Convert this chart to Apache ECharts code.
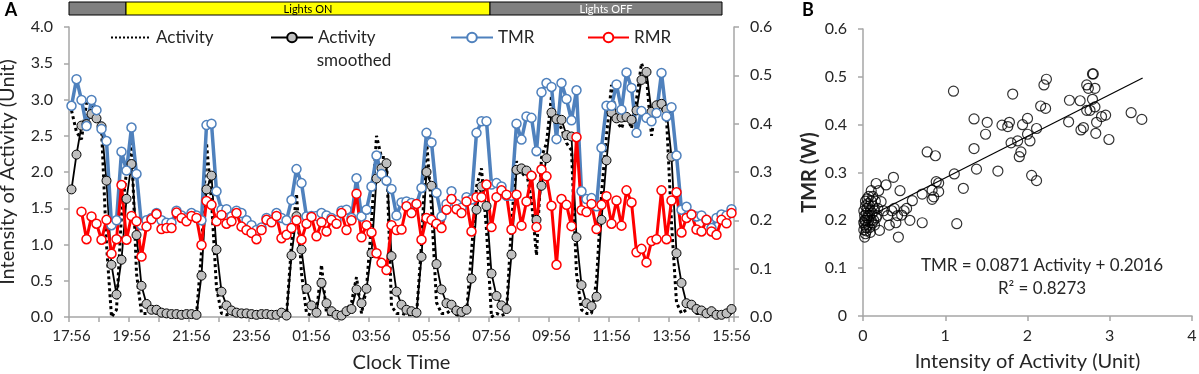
<!DOCTYPE html>
<html>
<head>
<meta charset="utf-8">
<title>Activity, TMR and RMR</title>
<script src="https://cdn.jsdelivr.net/npm/echarts@6/dist/echarts.min.js"></script>
<style>
  html, body { margin: 0; padding: 0; background: #fff; }
  #chart { width: 1199px; height: 374px; }
</style>
</head>
<body>
<div id="chart"></div>
<script>
// 10-minute bins from 17:56 to 15:56 next day
const clockTimes = [
  "17:56","18:06","18:16","18:26","18:36","18:46", "18:56","19:06","19:16","19:26","19:36","19:46",
  "19:56","20:06","20:16","20:26","20:36","20:46", "20:56","21:06","21:16","21:26","21:36","21:46",
  "21:56","22:06","22:16","22:26","22:36","22:46", "22:56","23:06","23:16","23:26","23:36","23:46",
  "23:56","00:06","00:16","00:26","00:36","00:46", "00:56","01:06","01:16","01:26","01:36","01:46",
  "01:56","02:06","02:16","02:26","02:36","02:46", "02:56","03:06","03:16","03:26","03:36","03:46",
  "03:56","04:06","04:16","04:26","04:36","04:46", "04:56","05:06","05:16","05:26","05:36","05:46",
  "05:56","06:06","06:16","06:26","06:36","06:46", "06:56","07:06","07:16","07:26","07:36","07:46",
  "07:56","08:06","08:16","08:26","08:36","08:46", "08:56","09:06","09:16","09:26","09:36","09:46",
  "09:56","10:06","10:16","10:26","10:36","10:46", "10:56","11:06","11:16","11:26","11:36","11:46",
  "11:56","12:06","12:16","12:26","12:36","12:46", "12:56","13:06","13:16","13:26","13:36","13:46",
  "13:56","14:06","14:16","14:26","14:36","14:46", "14:56","15:06","15:16","15:26","15:36","15:46",
  "15:56"
];

const activity = [
  2.85,2.55,2.45,2.95,2.90,2.80,2.60,1.00,0.00,0.10,1.40,2.00,
  2.40,0.60,0.05,0.05,0.08,0.05,0.03,0.02,0.02,0.03,0.02,0.03,
  0.02,0.03,0.90,2.40,1.60,0.40,0.05,0.03,0.04,0.02,0.03,0.02,
  0.02,0.03,0.02,0.02,0.02,0.03,0.05,0.02,1.00,1.70,0.60,0.05,
  0.02,0.05,0.72,0.05,0.02,0.02,0.03,0.10,0.20,0.55,0.05,0.40,
  1.30,2.50,2.20,2.20,0.15,0.05,0.05,0.03,0.03,0.02,1.00,2.45,
  1.50,0.20,0.05,0.05,0.10,0.03,0.02,0.05,0.90,1.80,2.05,1.20,
  0.00,0.05,0.02,0.05,1.30,2.15,1.95,2.00,1.60,0.85,2.20,2.40,
  3.05,2.70,2.60,2.40,2.30,0.60,0.10,0.05,0.05,0.50,1.70,2.50,
  3.20,2.70,2.60,2.80,2.60,3.00,3.50,3.30,2.50,2.95,2.90,2.75,
  1.30,0.20,0.05,0.10,0.15,0.05,0.05,0.02,0.05,0.02,0.02,0.03,0.05
];

const activitySmoothed = [
  1.76,2.24,2.64,2.66,2.80,2.74,2.63,1.88,0.72,0.31,0.79,1.63,
  2.11,1.13,0.43,0.18,0.10,0.10,0.06,0.05,0.04,0.04,0.03,0.04,
  0.04,0.03,0.57,1.76,1.95,0.93,0.35,0.16,0.09,0.06,0.05,0.05,
  0.04,0.03,0.04,0.04,0.03,0.03,0.06,0.02,0.85,1.39,0.93,0.39,
  0.16,0.06,0.47,0.19,0.08,0.03,0.02,0.08,0.11,0.38,0.19,0.39,
  0.88,1.91,2.05,2.12,0.84,0.35,0.17,0.10,0.08,0.06,0.83,2.00,
  1.81,0.73,0.38,0.19,0.17,0.09,0.07,0.10,0.53,1.48,1.80,1.53,
  0.60,0.29,0.16,0.11,0.86,2.03,2.05,2.02,1.95,1.34,1.81,2.19,
  2.82,2.73,2.72,2.51,2.49,1.10,0.44,0.19,0.15,0.28,1.34,2.16,
  2.82,2.74,2.75,2.76,2.72,2.85,3.27,3.38,2.83,2.92,2.94,2.86,
  2.21,0.88,0.47,0.19,0.17,0.11,0.09,0.05,0.08,0.03,0.03,0.05,0.11
];

const tmr = [
  0.437,0.492,0.449,0.395,0.449,0.428,0.389,0.364,0.190,0.200,0.342,0.303,
  0.392,0.296,0.190,0.200,0.205,0.215,0.200,0.195,0.195,0.220,0.210,0.205,
  0.215,0.210,0.200,0.397,0.400,0.260,0.222,0.223,0.208,0.220,0.215,0.200,
  0.190,0.180,0.185,0.205,0.200,0.215,0.205,0.200,0.242,0.306,0.277,0.208,
  0.209,0.209,0.215,0.210,0.205,0.200,0.220,0.222,0.205,0.287,0.208,0.222,
  0.270,0.334,0.296,0.282,0.265,0.210,0.237,0.239,0.236,0.234,0.267,0.381,
  0.361,0.257,0.208,0.234,0.260,0.234,0.226,0.248,0.243,0.381,0.405,0.405,
  0.274,0.277,0.270,0.251,0.251,0.400,0.367,0.415,0.412,0.343,0.465,0.484,
  0.476,0.368,0.484,0.451,0.407,0.469,0.260,0.244,0.246,0.229,0.350,0.437,
  0.437,0.481,0.429,0.506,0.474,0.381,0.426,0.412,0.405,0.422,0.505,0.415,
  0.434,0.334,0.222,0.228,0.212,0.208,0.210,0.201,0.184,0.205,0.212,0.210,0.223
];

const rmr = [
  null,null,0.218,0.161,0.208,0.193,0.160,0.201,0.131,0.161,0.273,0.160,
  0.209,0.198,0.125,0.187,0.202,0.213,0.182,0.184,0.184,0.216,0.205,0.198,
  0.209,0.205,0.149,0.240,0.232,0.198,0.211,0.193,0.198,0.215,0.187,0.180,
  0.174,0.161,0.180,0.201,0.196,0.209,0.163,0.170,0.184,0.200,0.160,0.193,
  0.207,0.167,0.196,0.177,0.201,0.193,0.215,0.180,0.200,0.255,0.165,0.190,
  0.175,0.132,0.112,0.097,0.190,0.180,0.181,0.229,0.215,0.234,0.160,0.205,
  0.201,0.193,0.184,0.222,0.244,0.223,0.215,0.239,0.177,0.248,0.248,0.274,
  0.186,0.248,0.262,0.253,0.181,0.253,0.189,0.239,0.292,0.186,0.305,0.291,
  0.230,0.108,0.244,0.232,0.188,0.372,0.221,0.217,0.234,0.182,0.232,0.250,
  0.193,0.241,0.189,0.262,0.237,0.134,0.141,0.113,0.157,0.161,0.262,0.161,
  0.241,0.258,0.175,0.205,0.212,0.181,0.177,0.201,0.177,0.170,0.201,0.194,0.215
];

// panel B: [activity, TMR]
const scatterPoints = [
  [0.02,0.165],[0.03,0.172],[0.01,0.18],[0.02,0.19],[0.04,0.185],[0.01,0.195],[0.03,0.2],
  [0.05,0.205],[0.02,0.21],[0.04,0.215],[0.01,0.22],[0.06,0.19],[0.07,0.2],[0.05,0.225],
  [0.08,0.21],[0.03,0.23],[0.06,0.235],[0.09,0.22],[0.1,0.2],[0.08,0.185],[0.11,0.215],
  [0.12,0.23],[0.1,0.24],[0.13,0.2],[0.05,0.245],[0.07,0.25],[0.1,0.262],[0.12,0.25],
  [0.15,0.24],[0.16,0.277],[0.19,0.262],[0.22,0.239],[0.2,0.179],[0.14,0.22],[0.17,0.21],
  [0.18,0.225],[0.09,0.175],[0.04,0.178],[0.02,0.2],[0.06,0.21],[0.14,0.19],[0.03,0.24],
  [0.08,0.23],[0.11,0.195],[0.16,0.205],
  [0.25,0.22],[0.28,0.274],[0.3,0.21],[0.32,0.19],[0.35,0.22],[0.37,0.29],[0.38,0.225],
  [0.4,0.195],[0.42,0.21],[0.43,0.165],[0.45,0.262],[0.47,0.211],[0.5,0.22],[0.53,0.225],
  [0.57,0.2],[0.6,0.241],[0.72,0.255],[0.72,0.195],
  [0.78,0.343],[0.88,0.335],[0.84,0.263],[0.86,0.249],[0.84,0.244],[0.89,0.281],[0.92,0.278],
  [0.92,0.26],[1.11,0.297],[1.22,0.267],[1.14,0.193],[1.1,0.47],
  [1.35,0.35],[1.35,0.412],[1.38,0.307],[1.49,0.38],[1.51,0.405],[1.64,0.303],[1.69,0.399],
  [1.76,0.396],[1.78,0.405],[1.8,0.362],[1.82,0.464],[1.88,0.366],[1.9,0.333],[1.92,0.343],
  [1.94,0.4],[2.0,0.413],[2.0,0.38],[2.03,0.366],[2.05,0.294],[2.11,0.392],[2.11,0.283],
  [2.16,0.439],[2.2,0.483],[2.22,0.434],[2.23,0.495],[2.5,0.406],[2.51,0.451],[2.64,0.45],
  [2.65,0.389],[2.68,0.394],[2.72,0.483],[2.72,0.43],[2.74,0.476],[2.76,0.43],[2.79,0.506],
  [2.8,0.506],[2.79,0.453],[2.82,0.476],[2.82,0.437],[2.84,0.405],[2.83,0.382],[2.9,0.417],
  [2.95,0.42],[2.99,0.369],[3.26,0.425],[3.39,0.411]
];

const trendSlope = 0.0871;
const trendIntercept = 0.2016;
const trendR2 = 0.8273;
const trendRange = [0.15, 3.4];

const font = 'Lato';
const axisGray = '#a6a6a6';
const textColor = '#262626';

let chart = echarts.init(document.getElementById('chart'));

const axisCommon = {
    axisLine: { show: true, lineStyle: { color: axisGray, width: 1.5 } },
    axisTick: { show: true, length: 5, lineStyle: { color: axisGray, width: 1.5 } },
    splitLine: { show: false }
};
const labelStyle = { color: textColor, fontFamily: font, fontSize: 16, margin: 16 };
const nameStyle = { color: textColor, fontFamily: font, fontSize: 20 };
const legendText = { fontSize: 17, color: textColor };

function label(text, x, y, size, color, weight) {
    return {
        type: 'text', x: x, y: y,
        style: {
            text: text, fill: color || textColor,
            font: (weight || 'normal') + ' ' + size + 'px ' + font,
            textAlign: 'center', textVerticalAlign: 'middle',
            align: 'center', verticalAlign: 'middle'
        }
    };
}

const option = {
    animation: false,
    textStyle: { fontFamily: font },
    grid: [
        { left: 69, right: 465, top: 27, bottom: 57, outerBoundsMode: 'none' },
        { left: 863, right: 7, top: 29, bottom: 58, outerBoundsMode: 'none' }
    ],
    legend: [
        // dotted line only, no marker
        { data: ['Activity'], left: 110, top: 29, padding: 0, itemWidth: 40, itemHeight: 12,
          itemStyle: { opacity: 0 }, textStyle: legendText },
        { data: ['Activity smoothed'], formatter: 'Activity', left: 270, top: 29, padding: 0,
          itemWidth: 42, itemHeight: 12, textStyle: legendText },
        { data: ['TMR'], left: 450, top: 29, padding: 0, itemWidth: 42, itemHeight: 12,
          textStyle: legendText },
        { data: ['RMR'], left: 587, top: 29, padding: 0, itemWidth: 41, itemHeight: 12,
          textStyle: legendText }
    ],
    xAxis: [
        {
            gridIndex: 0, type: 'category', data: clockTimes, boundaryGap: true,
            ...axisCommon,
            axisTick: { show: true, interval: 5, length: 5, lineStyle: { color: axisGray, width: 1.5 } },
            axisLabel: { ...labelStyle, fontSize: 15, margin: 12, interval: 11 },
            name: 'Clock Time', nameLocation: 'middle', nameGap: 36, nameTextStyle: nameStyle
        },
        {
            gridIndex: 1, type: 'value', min: 0, max: 4, interval: 1,
            ...axisCommon,
            axisLabel: { ...labelStyle, margin: 12 },
            name: 'Intensity of Activity (Unit)', nameLocation: 'middle', nameGap: 36,
            nameTextStyle: nameStyle
        }
    ],
    yAxis: [
        {
            gridIndex: 0, type: 'value', min: 0, max: 4, interval: 0.5, position: 'left',
            ...axisCommon,
            axisLabel: { ...labelStyle, formatter: v => v.toFixed(1) },
            name: 'Intensity of Activity (Unit)', nameLocation: 'middle', nameGap: 51,
            nameTextStyle: nameStyle
        },
        {
            gridIndex: 0, type: 'value', min: 0, max: 0.6, interval: 0.1, position: 'right',
            ...axisCommon,
            axisLabel: { ...labelStyle, formatter: v => v.toFixed(1) }
        },
        {
            gridIndex: 1, type: 'value', min: 0, max: 0.6, interval: 0.1,
            ...axisCommon,
            axisLabel: { ...labelStyle, formatter: v => v === 0 ? '0' : v.toFixed(1) },
            name: 'TMR (W)', nameLocation: 'middle', nameGap: 43,
            nameTextStyle: { ...nameStyle, fontWeight: 'bold' }
        }
    ],
    series: [
        {
            name: 'Activity', type: 'line', xAxisIndex: 0, yAxisIndex: 0,
            data: activity, symbol: 'none',
            itemStyle: { color: '#000' },
            lineStyle: { color: '#000', width: 3, type: 'dotted' }
        },
        {
            name: 'Activity smoothed', type: 'line', xAxisIndex: 0, yAxisIndex: 0,
            data: activitySmoothed, symbol: 'circle', symbolSize: 9, showAllSymbol: true,
            itemStyle: { color: '#bfbfbf', borderColor: '#000', borderWidth: 1 },
            lineStyle: { color: '#000', width: 1.8 }
        },
        {
            name: 'TMR', type: 'line', xAxisIndex: 0, yAxisIndex: 1,
            data: tmr, symbol: 'circle', symbolSize: 9, showAllSymbol: true,
            itemStyle: { color: '#fff', borderColor: '#4f81bd', borderWidth: 1.5 },
            lineStyle: { color: '#4f81bd', width: 3.5 }
        },
        {
            name: 'RMR', type: 'line', xAxisIndex: 0, yAxisIndex: 1,
            data: rmr, symbol: 'circle', symbolSize: 9, showAllSymbol: true,
            itemStyle: { color: '#fff', borderColor: '#ff0000', borderWidth: 1.5 },
            lineStyle: { color: '#ff0000', width: 3 }
        },
        {
            name: 'TMR vs activity', type: 'scatter', xAxisIndex: 1, yAxisIndex: 2,
            data: scatterPoints, symbol: 'circle', symbolSize: 10,
            itemStyle: { color: 'rgba(255,255,255,0)', borderColor: '#000', borderWidth: 1.2 }
        },
        {
            name: 'Trend', type: 'line', xAxisIndex: 1, yAxisIndex: 2,
            data: trendRange.map(x => [x, trendSlope * x + trendIntercept]),
            symbol: 'none', lineStyle: { color: '#000', width: 1.2 }
        }
    ],
    graphic: [
        label('A', 11, 10, 18, '#000', 'bold'),
        label('B', 808, 10, 18, '#000', 'bold'),
        { type: 'rect', shape: { x: 69, y: 2, width: 57, height: 13 },
          style: { fill: '#808080', stroke: '#000', lineWidth: 1 } },
        { type: 'rect', shape: { x: 126, y: 2, width: 364, height: 13 },
          style: { fill: '#ffff00', stroke: '#000', lineWidth: 1 } },
        { type: 'rect', shape: { x: 490, y: 2, width: 232, height: 13 },
          style: { fill: '#808080', stroke: '#000', lineWidth: 1 } },
        label('Lights ON', 308, 9, 11, '#000'),
        label('Lights OFF', 606, 9, 11, '#ffffff'),
        label('smoothed', 354, 61, 17),
        label('TMR = ' + trendSlope + ' Activity + ' + trendIntercept, 1042, 266, 17),
        label('R\u00b2 = ' + trendR2, 1042, 289, 17)
    ]
};

option && chart.setOption(option);
window.addEventListener('resize', chart.resize);
</script>
</body>
</html>
